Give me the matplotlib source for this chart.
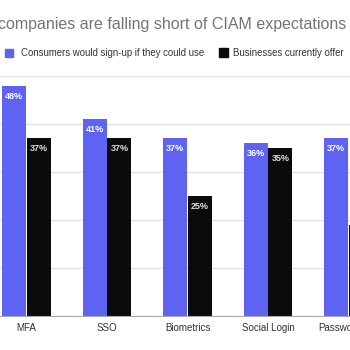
import matplotlib.pyplot as plt
import numpy as np

categories = ["MFA", "SSO", "Biometrics", "Social Login", "Passwordless"]
consumers = [48, 41, 37, 36, 37]
businesses = [37, 37, 25, 35, 19]
labels_cons = ["48%", "41%", "37%", "36%", "37%"]
labels_bus = ["37%", "37%", "25%", "35%", ""]  # last one lies past the crop

blue = "#5f63f2"
black = "#0b0b0b"

plt.rcParams['font.family'] = ['Liberation Sans', 'DejaVu Sans']

fig = plt.figure(figsize=(3.5, 3.5), dpi=100)
# the original picture is cropped, so the axes run past the figure edges
ax = fig.add_axes([-13.75 / 350, 34 / 350, 402.5 / 350, 240 / 350])

x = np.arange(len(categories))
w = 0.298
off = 0.155
b1 = ax.bar(x - off, consumers, w, color=blue, zorder=3)
b2 = ax.bar(x + off, businesses, w, color=black, zorder=3)

for bars, labs, col in [(b1, labels_cons, "white"), (b2, labels_bus, "#dddddd")]:
    for r, t in zip(bars, labs):
        if not t:
            continue
        ax.annotate(t, (r.get_x() + r.get_width() / 2, r.get_height()),
                    xytext=(0, -7.6), textcoords="offset points",
                    ha="center", va="center", fontsize=6.5,
                    fontweight="bold", color=col, zorder=4)

ax.set_xlim(-0.5, 4.5)
ax.set_ylim(0, 50)
ax.set_yticks(range(0, 51, 10))
ax.set_yticklabels([])
ax.tick_params(axis="y", length=0)
ax.grid(axis="y", color="#e2e2e2", linewidth=1, zorder=0)
ax.set_xticks(x)
ax.set_xticklabels(categories, fontsize=7, color="#333333")
ax.tick_params(axis="x", length=0, pad=5)
for s in ["top", "left", "right"]:
    ax.spines[s].set_visible(False)
ax.spines["bottom"].set_color("#aaaaaa")
ax.spines["bottom"].set_zorder(5)

fig.text(346 / 350, 1 - 25 / 350, "companies are falling short of CIAM expectations",
         ha="right", va="center", fontsize=11.5, color="#757575")

# legend
fig.patches.append(plt.Rectangle((5 / 350, 1 - 57 / 350), 8 / 350, 8 / 350,
                                 transform=fig.transFigure, color=blue))
fig.text(21 / 350, 1 - 53 / 350, "Consumers would sign-up if they could use",
         ha="left", va="center", fontsize=6.9, color="#333333")
fig.patches.append(plt.Rectangle((219 / 350, 1 - 57 / 350), 9 / 350, 9 / 350,
                                 transform=fig.transFigure, color=black))
fig.text(233 / 350, 1 - 53 / 350, "Businesses currently offer",
         ha="left", va="center", fontsize=6.9, color="#333333")

fig.savefig("out.png", dpi=100)
